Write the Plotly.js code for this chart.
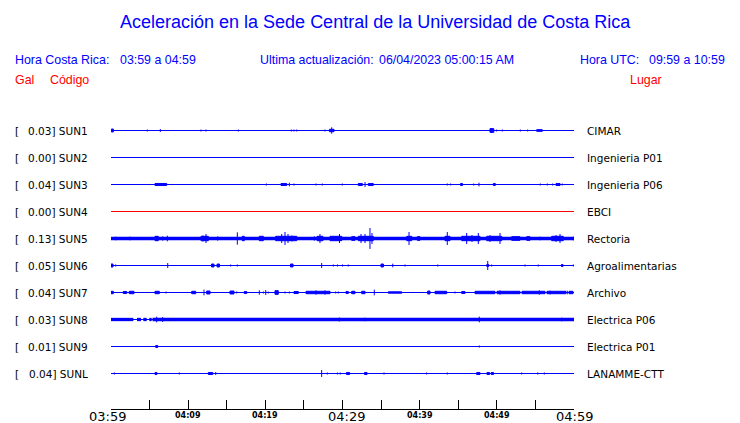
<!DOCTYPE html>
<html><head><meta charset="utf-8">
<script src="https://cdn.plot.ly/plotly-3.0.1.min.js"></script>
<style>html,body{margin:0;padding:0;background:#fff}</style>
</head><body>
<div id="chart" style="width:740px;height:423px"></div>
<script>
// ---------------- DATA ----------------
const stations = ["SUN1","SUN2","SUN3","SUN4","SUN5","SUN6","SUN7","SUN8","SUN9","SUNL"];
const peakGal  = [0.03, 0.00, 0.04, 0.00, 0.13, 0.05, 0.04, 0.03, 0.01, 0.04];
const places   = ["CIMAR","Ingenieria P01","Ingenieria P06","EBCI","Rectoria","Agroalimentarias","Archivo","Electrica P06","Electrica P01","LANAMME-CTT"];
const stationColors = ["#0000ff","#0000ff","#0000ff","#ff0000","#0000ff","#0000ff","#0000ff","#0000ff","#0000ff","#0000ff"];

// minutes after 03:59 (local time)
const tickMinutes = [0,5,10,15,20,25,30,35,40,45,50,55,60];
const tickLabels  = ["03:59","","04:09","","04:19","","04:29","","04:39","","04:49","","04:59"];

// continuous noise bands [start min, end min]
const bandSUN5 = [[0,60]];
const bandSUN8 = [[0,2.89],[3.37,3.89],[4.19,4.63],[4.96,5.27],[5.38,60]];

// events: [start minute, half amplitude (gal), duration (min, 0 = spike)]
const evSUN1 = [[0.05,0.022,0.25],[4.70,0.017,0],[5.92,0.011,0],[6.39,0.022,0],[7.52,0.011,0],[11.66,0.017,0],[12.31,0.017,0],[16.50,0.017,0],[18.83,0.011,0],[23.36,0.017,0],[23.71,0.017,0],[24.07,0.017,0],[27.73,0.017,0],[28.30,0.019,0.60],[28.60,0.041,0],[30.78,0.011,0],[35.73,0.011,0],[37.32,0.011,0],[37.97,0.011,0],[41.95,0.011,0],[44.58,0.011,0],[45.45,0.011,0],[49.11,0.026,0.50],[49.33,0.033,0],[49.98,0.017,0],[50.71,0.017,0],[51.15,0.011,0],[53.04,0.017,0],[53.43,0.011,0],[54.00,0.017,0],[55.17,0.015,0.72],[57.19,0.011,0],[58.74,0.011,0]];
const evSUN2 = [];
const evSUN3 = [[5.70,0.017,1.52],[19.48,0.011,0],[20.13,0.017,0],[22.03,0.017,0.74],[23.11,0.026,0],[23.71,0.017,0],[25.83,0.011,0],[26.57,0.017,0],[27.38,0.017,0],[28.81,0.011,0],[29.68,0.011,0],[29.97,0.017,0],[30.88,0.011,0],[32.05,0.017,0.52],[32.92,0.033,0],[33.34,0.017,0.65],[34.12,0.011,0],[36.16,0.011,0],[38.49,0.011,0],[43.06,0.011,0],[43.28,0.011,0],[43.58,0.017,0],[44.02,0.017,0],[44.49,0.011,0],[44.84,0.011,0],[45.30,0.017,0.25],[46.43,0.011,0],[47.00,0.017,0],[47.30,0.011,0],[47.69,0.026,0],[49.55,0.017,0.25],[50.24,0.011,0],[50.76,0.011,0],[52.91,0.011,0],[54.78,0.011,0],[55.63,0.017,0],[55.94,0.011,0],[56.54,0.017,0],[56.89,0.011,0],[57.24,0.017,0],[57.67,0.017,0.52],[58.48,0.017,0],[59.95,0.011,0]];
const evSUN4 = [];
const evSUN5 = [[0.61,0.026,0],[1.59,0.017,0],[2.46,0.026,0],[2.68,0.022,0],[5.70,0.030,0.43],[6.70,0.030,0],[7.30,0.037,0],[8.59,0.022,0],[9.50,0.022,0],[9.89,0.022,0],[11.66,0.030,0.95],[11.92,0.039,0],[12.31,0.056,0],[13.83,0.030,0],[16.37,0.074,0],[17.01,0.030,0.26],[19.22,0.030,0.52],[20.09,0.022,0],[20.60,0.022,0],[21.34,0.030,2.73],[22.12,0.056,0],[22.55,0.078,0],[22.94,0.056,0],[23.46,0.039,0],[26.35,0.030,0],[26.70,0.030,0.77],[27.08,0.056,0],[27.86,0.022,0],[28.38,0.030,1.52],[29.61,0.056,0],[30.54,0.022,0],[31.19,0.026,0.43],[32.05,0.030,1.94],[32.40,0.056,0],[32.92,0.056,0],[33.56,0.122,0],[33.82,0.067,0],[35.94,0.022,0],[36.28,0.022,0],[36.80,0.022,0],[38.32,0.030,0.65],[38.62,0.078,0],[39.69,0.026,0.35],[43.28,0.030,0.65],[43.58,0.078,0],[45.45,0.030,2.37],[46.09,0.067,0],[46.78,0.044,0],[47.60,0.067,0],[48.69,0.030,1.94],[49.11,0.044,0],[50.41,0.067,0],[51.93,0.026,1.07],[53.87,0.026,0.43],[55.59,0.026,0],[57.11,0.030,1.50],[57.67,0.044,0],[58.19,0.056,0],[59.91,0.026,0]];
const evSUN6 = [[0.00,0.022,0.26],[0.61,0.017,0],[3.02,0.011,0],[5.27,0.011,0],[5.79,0.011,0],[7.35,0.033,0],[13.02,0.022,0.33],[13.74,0.022,0.32],[15.51,0.017,0],[16.37,0.017,0],[17.92,0.011,0],[23.26,0.022,0.33],[27.30,0.033,0],[28.81,0.017,0],[29.35,0.017,0],[30.00,0.017,0],[30.75,0.017,0],[32.40,0.011,0],[32.83,0.011,0],[34.99,0.022,0.32],[36.51,0.026,0],[38.10,0.017,0],[41.12,0.011,0],[42.34,0.017,0],[44.93,0.011,0],[45.58,0.011,0],[46.00,0.011,0],[48.70,0.017,0.25],[48.82,0.056,0],[49.33,0.017,0],[50.50,0.011,0],[51.06,0.011,0],[51.93,0.011,0],[52.78,0.011,0],[53.65,0.017,0],[54.52,0.011,0],[55.37,0.017,0],[56.24,0.011,0],[56.89,0.011,0],[58.38,0.017,0.19],[59.91,0.017,0]];
const evSUN7 = [[0.00,0.019,0.30],[1.59,0.017,0.44],[2.37,0.019,0.61],[4.96,0.011,0],[5.70,0.019,0.56],[6.70,0.011,0],[7.13,0.017,0],[7.43,0.011,0],[8.38,0.011,0],[10.46,0.019,0.52],[12.05,0.037,0],[12.40,0.022,0.43],[15.42,0.022,0.52],[16.29,0.017,0],[17.27,0.017,0.32],[18.66,0.011,0],[19.22,0.030,0],[19.74,0.017,0],[20.05,0.033,0],[20.38,0.017,0],[21.25,0.026,0.43],[22.55,0.017,0],[23.11,0.017,0],[23.71,0.017,0.56],[25.27,0.019,3.11],[26.57,0.030,0],[27.73,0.030,0],[29.12,0.017,0],[29.46,0.017,0],[30.45,0.017,0.30],[31.19,0.019,0.43],[32.49,0.019,0.43],[34.12,0.037,0],[34.99,0.011,0],[35.94,0.013,1.73],[38.75,0.011,0],[39.62,0.011,0],[41.04,0.022,0.30],[41.99,0.019,1.51],[44.58,0.017,0],[45.45,0.017,0.42],[47.17,0.019,2.59],[50.02,0.019,2.98],[50.41,0.030,0],[53.26,0.019,2.98],[53.65,0.022,0],[55.50,0.030,0],[56.50,0.019,2.46],[56.89,0.026,0],[59.13,0.026,0],[59.35,0.019,0.52]];
const evSUN8 = [[5.92,0.037,0],[6.70,0.033,0],[29.59,0.028,0],[32.18,0.022,0],[32.92,0.026,0],[47.73,0.037,0],[58.41,0.026,0]];
const evSUN9 = [[5.80,0.017,0.25],[47.73,0.017,0]];
const evSUNL = [[0.43,0.017,0],[5.70,0.017,0.25],[8.85,0.017,0],[10.67,0.011,0],[11.83,0.011,0],[12.61,0.017,0.57],[13.57,0.022,0],[14.03,0.011,0],[15.85,0.011,0],[19.09,0.011,0],[26.73,0.011,0],[27.30,0.044,0],[28.03,0.017,0],[29.33,0.017,0],[29.71,0.017,0],[29.90,0.011,0],[30.52,0.017,0.40],[31.32,0.011,0],[32.05,0.011,0],[32.85,0.017,0.33],[34.64,0.011,0],[35.38,0.017,0],[40.91,0.017,0],[42.51,0.011,0],[42.76,0.011,0],[43.19,0.011,0],[43.58,0.017,0],[44.36,0.011,0],[47.39,0.017,0.43],[48.72,0.017,0.33],[49.28,0.017,0.29],[53.22,0.017,0],[53.56,0.011,0],[55.30,0.017,0],[56.15,0.017,0],[58.87,0.011,0]];

const events = [evSUN1,evSUN2,evSUN3,evSUN4,evSUN5,evSUN6,evSUN7,evSUN8,evSUN9,evSUNL];
const bands  = [[],[],[],[],bandSUN5,[],[],bandSUN8,[],[]];

// ---------------- BUILD ----------------
const GAL_PER_ROW = 0.3;          // one row spacing (27 px) = 0.3 gal
const ROW_PX = 27;
const L = 111, R = 166, T = 103, B = 14, W = 740 - L - R, H = 423 - T - B;
const px = x => (x - L) / W;
const py = y => (423 - B - y) / H;
const STROKE = 1;
const halfStroke = (STROKE / 2) / ROW_PX;   // visual extent includes half the stroke

const traces = [];
stations.forEach((s, k) => {
  const y0 = -k, col = stationColors[k];
  traces.push({x:[0,60], y:[y0,y0], mode:'lines', line:{color:col, width:STROKE}, hoverinfo:'skip', showlegend:false});
  if (bands[k].length) {
    const bx = [], by = [];
    bands[k].forEach(([a,b]) => { bx.push(a,b,null); by.push(y0,y0,null); });
    traces.push({x:bx, y:by, mode:'lines', line:{color:col, width:3.3}, hoverinfo:'skip', showlegend:false});
  }
  if (events[k].length) {
    const ex = [], ey = [];
    events[k].forEach(([t,a,d]) => {
      const h = Math.max(a / GAL_PER_ROW - halfStroke, 0.5 / ROW_PX);
      if (d > 0) { ex.push(t,t+d,t+d,t,t,null); ey.push(y0+h,y0+h,y0-h,y0-h,y0+h,null); }
      else { ex.push(t,t,null); ey.push(y0+h,y0-h,null); }
    });
    traces.push({x:ex, y:ey, mode:'lines', fill:'toself', fillcolor:col, line:{color:col, width:STROKE}, hoverinfo:'skip', showlegend:false});
  }
});

const ann = [];
function A(o){ ann.push(Object.assign({showarrow:false, borderpad:0, borderwidth:0, xref:'paper', yref:'paper'}, o)); }
const hdr = {family:'"Liberation Sans", Arial, sans-serif', size:12.4, color:'#0000ff'};
const red = {family:'"Liberation Sans", Arial, sans-serif', size:12.4, color:'#ff0000'};
const lab = {family:'"DejaVu Sans", sans-serif', size:10.5, color:'#000'};

A({text:'Aceleración en la Sede Central de la Universidad de Costa Rica', x:px(375.5), y:py(22), xanchor:'center', yanchor:'middle', font:{family:'"Liberation Sans", Arial, sans-serif', size:18, color:'#0000ff'}});
A({text:'Hora Costa Rica:', x:px(15), y:py(60), xanchor:'left', yanchor:'middle', font:hdr});
A({text:'03:59 a 04:59', x:px(120), y:py(60), xanchor:'left', yanchor:'middle', font:hdr});
A({text:'Ultima actualización:', x:px(260), y:py(60), xanchor:'left', yanchor:'middle', font:hdr});
A({text:'06/04/2023 05:00:15 AM', x:px(514), y:py(60), xanchor:'right', yanchor:'middle', font:hdr});
A({text:'Hora UTC:', x:px(580), y:py(60), xanchor:'left', yanchor:'middle', font:hdr});
A({text:'09:59 a 10:59', x:px(725), y:py(60), xanchor:'right', yanchor:'middle', font:hdr});
A({text:'Gal', x:px(15), y:py(80), xanchor:'left', yanchor:'middle', font:red});
A({text:'Código', x:px(50), y:py(80), xanchor:'left', yanchor:'middle', font:red});
A({text:'Lugar', x:px(662), y:py(80), xanchor:'right', yanchor:'middle', font:red});

stations.forEach((s, k) => {
  A({text:'[', x:px(15), xanchor:'left', yref:'y', y:-k, yanchor:'middle', font:lab});
  A({text:peakGal[k].toFixed(2) + '] ' + s, x:px(87.5), xanchor:'right', yref:'y', y:-k, yanchor:'middle', font:lab});
  A({text:places[k], x:px(587), xanchor:'left', yref:'y', y:-k, yanchor:'middle', font:lab});
});

const bigShift = {0:-4, 30:3.5, 60:0.5};
tickMinutes.forEach((m, i) => {
  if (!tickLabels[i]) return;
  const big = m % 30 === 0;
  A({text:tickLabels[i], xref:'x', x:m, y:0, yanchor:'middle', xanchor:'center', yshift: big ? -7 : -6,
     xshift: big ? bigShift[m] : 0,
     font: big ? {family:'"DejaVu Sans", sans-serif', size:13, color:'#000'}
               : {family:'"DejaVu Sans", sans-serif', size:8, color:'#000', weight:'bold'}});
});

const d = 0.5 / ROW_PX;   // put row baselines on pixel centres
const layout = {
  width:740, height:423,
  margin:{l:L, r:R, t:T, b:B, pad:0},
  paper_bgcolor:'#fff', plot_bgcolor:'#fff',
  showlegend:false,
  xaxis:{range:[0,60], showgrid:false, zeroline:false, showline:true, linecolor:'#000', linewidth:1,
         ticks:'inside', ticklen:9, tickwidth:1, tickcolor:'#000', tickmode:'array', tickvals:tickMinutes,
         showticklabels:false, fixedrange:true},
  yaxis:{range:[-10 - 9/27 + d, 1 + d], visible:false, showgrid:false, zeroline:false, fixedrange:true},
  annotations: ann
};

Plotly.newPlot('chart', traces, layout, {displayModeBar:false, staticPlot:true});
</script>
</body></html>
